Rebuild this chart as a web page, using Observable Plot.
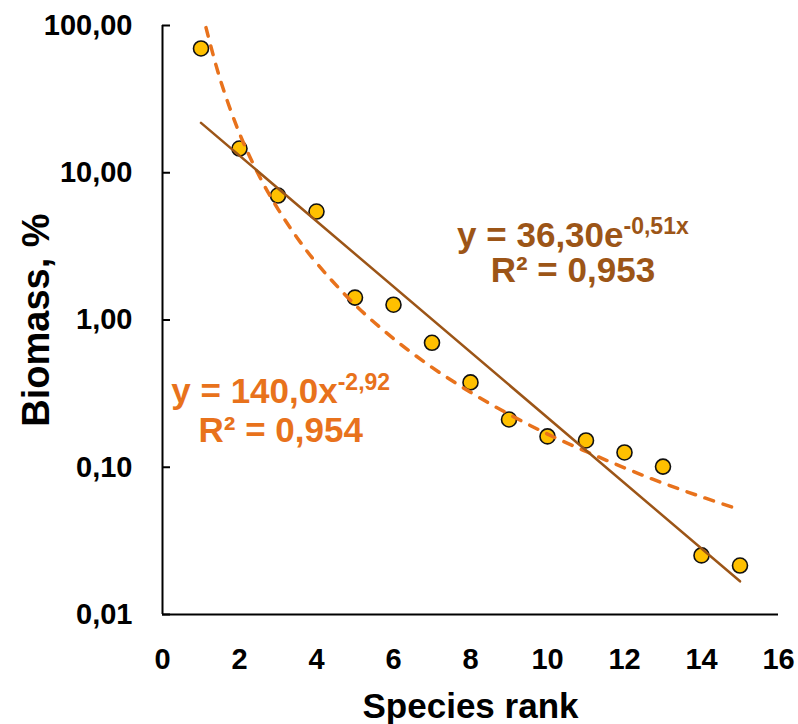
<!DOCTYPE html>
<html>
<head>
<meta charset="utf-8">
<script src="https://cdn.jsdelivr.net/npm/d3@7"></script>
<script src="https://cdn.jsdelivr.net/npm/@observablehq/plot@0.6"></script>
<style>
  html, body { margin: 0; padding: 0; background: #fff; }
</style>
</head>
<body>
<div id="chart"></div>
<script>
// ---- data ----
const ranks   = [1, 2, 3, 4, 5, 6, 7, 8, 9, 10, 11, 12, 13, 14, 15];
const biomass = [69.8, 14.6, 7.0, 5.45, 1.42, 1.27, 0.70, 0.377, 0.211, 0.162, 0.152, 0.126, 0.101, 0.0252, 0.0215];

// exponential trend line (solid) end points
const expFitX = [1, 15];
const expFitY = [21.8, 0.0168];

// power trend line (dashed)
const powFitX = [1.13, 1.5, 2, 2.5, 3, 3.5, 4, 5, 6, 7, 8, 9, 10, 11, 12, 13, 14, 15];
const powFitY = [96.7, 42.9, 18.5, 9.65, 5.67, 3.61, 2.44, 1.27, 0.748, 0.477, 0.323, 0.229, 0.168, 0.128, 0.099, 0.078, 0.063, 0.0515];

const xTicks = [0, 2, 4, 6, 8, 10, 12, 14, 16];
const yTicks = [0.01, 0.1, 1, 10, 100];
const yTickLabels = ["0,01", "0,10", "1,00", "10,00", "100,00"];

const xLabel = "Species rank";
const yLabel = "Biomass, %";

const eqLines = [
  {x: 10.66, y: 3.108, text: "y = 36,30e^-0,51x", series: "exp"},
  {x: 10.66, y: 1.798, text: "R² = 0,953",        series: "exp"},
  {x: 3.07,  y: 0.271, text: "y = 140,0x^-2,92",  series: "pow"},
  {x: 3.07,  y: 0.1473, text: "R² = 0,954",       series: "pow"}
];

// ---- colours ----
const brown = "#9C5517";
const orange = "#E8721C";
const gold = "#FFC000";

const points = ranks.map((r, i) => ({rank: r, value: biomass[i]}));
const expFit = expFitX.map((x, i) => ({x, y: expFitY[i]}));
const powFit = powFitX.map((x, i) => ({x, y: powFitY[i]}));

const W = 798, H = 724, mL = 162, mR = 20, mT = 25, mB = 110;
const plotW = W - mL - mR;

const chart = Plot.plot({
  width: W,
  height: H,
  marginLeft: mL,
  marginRight: mR,
  marginTop: mT,
  marginBottom: mB,
  style: {fontFamily: "'Liberation Sans', Arial, sans-serif", fontWeight: "bold", background: "#fff", color: "#000"},
  x: {domain: [0, 16]},
  y: {type: "log", domain: [0.01, 100]},
  marks: [
    Plot.axisX({ticks: xTicks, tickSize: 0, tickPadding: 34, fontSize: 29, label: null}),
    Plot.axisY({ticks: yTicks, tickSize: 0, tickPadding: 30, fontSize: 29, label: null,
      tickFormat: d => yTickLabels[yTicks.indexOf(d)]}),
    Plot.tickY(yTicks, {y: d => d, insetRight: plotW - 8, stroke: "#000", strokeWidth: 2}),
    Plot.ruleX([0], {stroke: "#000", strokeWidth: 2}),
    Plot.ruleY([0.01], {stroke: "#000", strokeWidth: 2}),
    Plot.text([xLabel], {frameAnchor: "bottom", dy: 103, lineAnchor: "bottom", textAnchor: "middle", fontSize: 35, fontWeight: "bold", fill: "#000"}),
    Plot.text([yLabel], {frameAnchor: "left", dx: -126, rotate: -90, textAnchor: "middle", fontSize: 38, fontWeight: "bold", fill: "#000"}),
    Plot.dot(points, {x: "rank", y: "value", r: 7.5, fill: gold, stroke: "#111", strokeWidth: 1.6}),
    Plot.line(powFit, {x: "x", y: "y", curve: "catmull-rom", stroke: orange, strokeWidth: 3.5,
      strokeDasharray: "9,10", strokeLinecap: "round"}),
    Plot.line(expFit, {x: "x", y: "y", stroke: brown, strokeWidth: 2.5}),
    Plot.text(eqLines, {x: "x", y: "y", text: "text", lineAnchor: "bottom", textAnchor: "middle",
      fontSize: 35, fontWeight: "bold", fill: d => d.series === "exp" ? brown : orange})
  ]
});

// turn "^" parts into superscripts
d3.select(chart).selectAll("text").each(function () {
  if (this.querySelector("tspan")) return;
  const t = this.textContent;
  if (!t.includes("^")) return;
  const [base, sup] = t.split("^");
  this.textContent = "";
  const ns = "http://www.w3.org/2000/svg";
  const a = document.createElementNS(ns, "tspan");
  a.textContent = base;
  const b = document.createElementNS(ns, "tspan");
  b.textContent = sup;
  b.setAttribute("font-size", "23px");
  b.setAttribute("dy", "-13");
  this.appendChild(a);
  this.appendChild(b);
});

document.getElementById("chart").appendChild(chart);
</script>
</body>
</html>
